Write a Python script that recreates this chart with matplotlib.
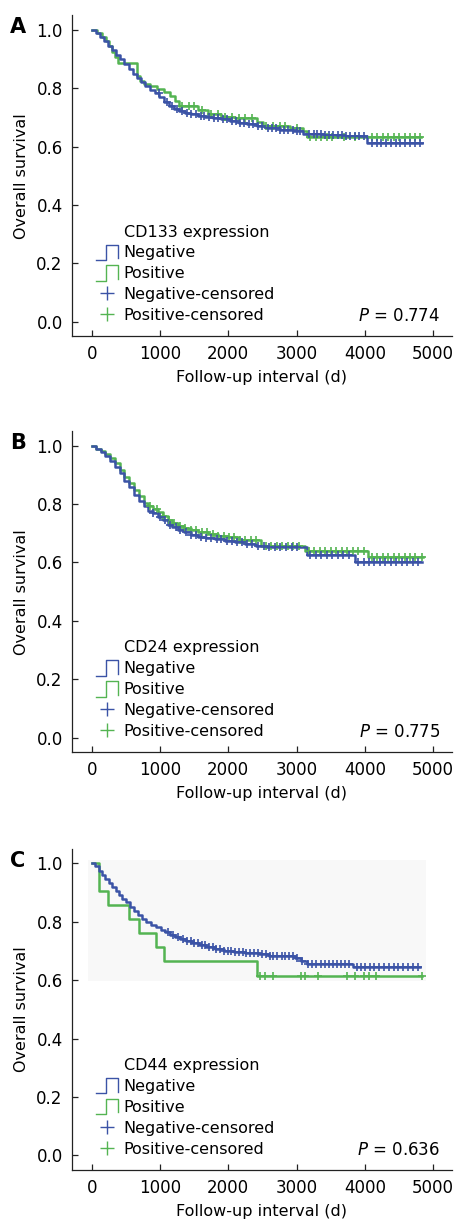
import numpy as np
import matplotlib
matplotlib.use('Agg')
import matplotlib.pyplot as plt
from matplotlib.lines import Line2D
from matplotlib.legend_handler import HandlerBase
from matplotlib.patches import Rectangle

plt.rcParams['font.family'] = ['DejaVu Sans']
plt.rcParams['font.size'] = 11.5

BLUE = '#3b53a6'
GREEN = '#54b452'

# ---- Panel A: CD133 ----
a_neg_t = [0, 60, 120, 180, 240, 300, 360, 420, 480, 540, 600, 660, 720, 780, 850, 920, 990,
           1060, 1130, 1200, 1280, 1370, 1460, 1560, 1660, 1780, 1900, 2020, 2150, 2280, 2420,
           2560, 2750, 2950, 3100, 3400, 3700, 4030]
a_neg_s = [1.0, 0.99, 0.975, 0.962, 0.945, 0.93, 0.915, 0.9, 0.883, 0.866, 0.85, 0.836, 0.822,
           0.808, 0.795, 0.782, 0.768, 0.752, 0.74, 0.73, 0.722, 0.716, 0.711, 0.705, 0.701,
           0.697, 0.693, 0.688, 0.682, 0.676, 0.669, 0.662, 0.658, 0.652, 0.642, 0.638, 0.635, 0.611]
a_neg_end = 4830
a_neg_cens = [980, 1100, 1180, 1250, 1320, 1400, 1460, 1530, 1600, 1650, 1720, 1790, 1850, 1920,
              1980, 2050, 2110, 2170, 2230, 2300, 2360, 2440, 2500, 2580, 2640, 2700, 2760, 2820,
              2880, 2940, 3000, 3050, 3180, 3250, 3300, 3360, 3420, 3480, 3540, 3600, 3660, 3720,
              3780, 3850, 3920, 3980, 4100, 4170, 4240, 4310, 4380, 4450, 4520, 4590, 4660, 4730, 4800]
a_pos_t = [0, 80, 150, 210, 250, 290, 340, 390, 660, 700, 760, 850, 950, 1060, 1150, 1220, 1280,
           1560, 1700, 1900, 2100, 2420, 2510, 2900, 3100, 3150]
a_pos_s = [1.0, 0.99, 0.975, 0.962, 0.945, 0.925, 0.905, 0.887, 0.84, 0.825, 0.815, 0.806, 0.797,
           0.787, 0.772, 0.757, 0.738, 0.724, 0.712, 0.702, 0.697, 0.685, 0.672, 0.664, 0.652, 0.634]
a_pos_end = 4820
a_pos_cens = [1320, 1420, 1500, 1620, 1750, 1850, 1950, 2050, 2150, 2250, 2350, 2550, 2650, 2750,
              2830, 3000, 3200, 3280, 3350, 3450, 3520, 3700, 3850, 4100, 4180, 4260, 4340, 4420,
              4500, 4580, 4660, 4740, 4810]

# ---- Panel B: CD24 ----
b_neg_t = [0, 60, 130, 200, 270, 340, 410, 480, 550, 620, 690, 760, 830, 900, 970, 1040, 1110,
           1180, 1260, 1350, 1450, 1560, 1680, 1800, 1950, 2100, 2250, 2400, 2550, 3150, 3860]
b_neg_s = [1.0, 0.988, 0.978, 0.965, 0.948, 0.928, 0.905, 0.878, 0.86, 0.83, 0.812, 0.792, 0.778,
           0.768, 0.757, 0.745, 0.73, 0.72, 0.712, 0.703, 0.695, 0.689, 0.685, 0.68, 0.675, 0.67,
           0.664, 0.658, 0.652, 0.624, 0.600]
b_neg_end = 4830
b_neg_cens = [900, 1000, 1080, 1150, 1230, 1300, 1380, 1450, 1520, 1600, 1680, 1750, 1830, 1900,
              1980, 2050, 2130, 2200, 2280, 2350, 2430, 2520, 2600, 2680, 2760, 2850, 2930, 3010,
              3200, 3280, 3360, 3440, 3520, 3600, 3680, 3760, 3900, 3980, 4060, 4140, 4220, 4300,
              4380, 4460, 4540, 4620, 4700, 4780]
b_pos_t = [0, 60, 130, 200, 270, 340, 410, 480, 550, 620, 690, 760, 830, 900, 970, 1040, 1110,
           1180, 1260, 1350, 1450, 1560, 1700, 1850, 2000, 2150, 2480, 3120, 4040]
b_pos_s = [1.0, 0.99, 0.982, 0.972, 0.957, 0.94, 0.918, 0.892, 0.872, 0.85, 0.828, 0.805, 0.792,
           0.783, 0.772, 0.76, 0.746, 0.734, 0.725, 0.717, 0.71, 0.704, 0.698, 0.692, 0.686,
           0.678, 0.656, 0.640, 0.618]
b_pos_end = 4850
b_pos_cens = [850, 960, 1050, 1130, 1210, 1290, 1370, 1450, 1530, 1610, 1690, 1770, 1850, 1930,
              2010, 2090, 2170, 2250, 2330, 2410, 2550, 2630, 2710, 2790, 2870, 2950, 3030, 3180,
              3260, 3340, 3420, 3500, 3580, 3660, 3740, 3820, 3900, 3980, 4100, 4180, 4260, 4340,
              4420, 4500, 4580, 4660, 4740, 4840]

# ---- Panel C: CD44 ----
c_neg_t = [0, 50, 100, 150, 200, 250, 300, 350, 400, 450, 500, 560, 620, 680, 740, 800, 870, 940,
           1010, 1080, 1150, 1220, 1300, 1380, 1470, 1570, 1680, 1800, 1930, 2080, 2250, 2450,
           2600, 2980, 3060, 3150, 3830]
c_neg_s = [1.0, 0.99, 0.975, 0.96, 0.946, 0.934, 0.92, 0.906, 0.892, 0.879, 0.866, 0.852, 0.836,
           0.822, 0.81, 0.798, 0.79, 0.781, 0.773, 0.764, 0.756, 0.749, 0.741, 0.733, 0.726, 0.72,
           0.714, 0.707, 0.701, 0.697, 0.692, 0.688, 0.682, 0.675, 0.666, 0.657, 0.645]
c_neg_end = 4810
c_neg_cens = [1120, 1190, 1260, 1330, 1400, 1450, 1500, 1560, 1610, 1660, 1720, 1770, 1820, 1880,
              1930, 1990, 2040, 2100, 2150, 2210, 2260, 2320, 2380, 2430, 2490, 2550, 2610, 2660,
              2720, 2780, 2830, 2890, 2940, 3000, 3080, 3170, 3230, 3290, 3350, 3410, 3470, 3530,
              3590, 3650, 3710, 3770, 3880, 3940, 4000, 4070, 4140, 4210, 4280, 4350, 4420, 4490,
              4560, 4630, 4700, 4770]
c_pos_t = [0, 110, 240, 540, 690, 940, 1060, 2415]
c_pos_s = [1.0, 0.905, 0.857, 0.810, 0.762, 0.714, 0.667, 0.615]
c_pos_end = 4830
c_pos_cens = [2470, 2540, 2650, 3070, 3130, 3320, 3740, 3860, 3980, 4060, 4160, 4830]

panel_letters = ['A', 'B', 'C']
markers_names = ['CD133', 'CD24', 'CD44']
p_values = ['0.774', '0.775', '0.636']
x_ticks = [0, 1000, 2000, 3000, 4000, 5000]
y_ticks = [0.0, 0.2, 0.4, 0.6, 0.8, 1.0]

panels = [
    (a_neg_t, a_neg_s, a_neg_end, a_neg_cens, a_pos_t, a_pos_s, a_pos_end, a_pos_cens),
    (b_neg_t, b_neg_s, b_neg_end, b_neg_cens, b_pos_t, b_pos_s, b_pos_end, b_pos_cens),
    (c_neg_t, c_neg_s, c_neg_end, c_neg_cens, c_pos_t, c_pos_s, c_pos_end, c_pos_cens),
]


class StepKey(Line2D):
    pass


class StepHandler(HandlerBase):
    def create_artists(self, legend, orig_handle, xdescent, ydescent, width, height,
                       fontsize, trans):
        xs = np.array([0, 0.46, 0.46, 1.0, 1.0]) * width - xdescent
        ys = np.array([-0.15, -0.15, 1.1, 1.1, 0.0]) * height - ydescent
        ln = Line2D(xs, ys, color=orig_handle.get_color(), lw=1.0, transform=trans)
        return [ln]


def surv_at(times, surv, t):
    idx = np.searchsorted(times, t, side='right') - 1
    return np.asarray(surv)[idx]


def draw_km(ax, times, surv, end, cens, color):
    xs = np.append(times, end)
    ys = np.append(surv, surv[-1])
    ax.step(xs, ys, where='post', color=color, lw=1.8, zorder=3)
    ax.plot(cens, surv_at(times, surv, cens), ls='none', marker='+', ms=5.5, mew=1.2,
            color=color, zorder=4)


fig = plt.figure(figsize=(4.56, 12.23), dpi=100)
bottoms = [0.7250, 0.3849, 0.0434]

for i, (nt, ns, ne, nc, pt, ps, pe, pc) in enumerate(panels):
    ax = fig.add_axes([0.1572, bottoms[i], 0.8333, 0.2626])
    if i == 2:
        # faint grey artefact behind the curves in panel C
        ax.add_patch(Rectangle((-60, 0.598), 4950, 0.413, facecolor='#f8f8f8',
                               edgecolor='none', zorder=0))
    draw_km(ax, pt, ps, pe, pc, GREEN)
    draw_km(ax, nt, ns, ne, nc, BLUE)

    ax.set_xlim(-293, 5270)
    ax.set_ylim(-0.05, 1.05)
    ax.set_xticks(x_ticks)
    ax.set_yticks(y_ticks)
    ax.set_yticklabels(['%.1f' % v for v in y_ticks])
    ax.spines['top'].set_visible(False)
    ax.spines['right'].set_visible(False)
    for s in ['left', 'bottom']:
        ax.spines[s].set_linewidth(0.9)
        ax.spines[s].set_color('#222222')
    ax.tick_params(direction='in', length=4.5, width=0.9, color='#222222', labelsize=12)
    ax.tick_params(axis='y', pad=6.5)
    ax.tick_params(axis='x', pad=6.5)
    ax.set_ylabel('Overall survival', fontsize=11.5, labelpad=5)
    ax.set_xlabel('Follow-up interval (d)', fontsize=11.5, labelpad=5)

    handles = [Line2D([], [], color='none'),
               StepKey([], [], color=BLUE),
               StepKey([], [], color=GREEN),
               Line2D([], [], ls='none', marker='+', ms=10, mew=1.0, color=BLUE),
               Line2D([], [], ls='none', marker='+', ms=10, mew=1.0, color=GREEN)]
    labels = ['%s expression' % markers_names[i], 'Negative', 'Positive',
              'Negative-censored', 'Positive-censored']
    ax.legend(handles, labels, handler_map={StepKey: StepHandler()}, loc='lower left',
              bbox_to_anchor=(0.064, 0.041), frameon=False, borderpad=0, borderaxespad=0,
              handlelength=1.35, handleheight=0.8, handletextpad=0.38, labelspacing=0.37,
              fontsize=11.5, numpoints=1)

    ax.text(0.969, 0.062, '$P$ = %s' % p_values[i], transform=ax.transAxes,
            ha='right', va='center', fontsize=12)

    top_px = (1 - bottoms[i] - 0.2626) * 1223
    fig.text(10 / 456, 1 - (top_px + 12) / 1223, panel_letters[i], fontsize=15,
             fontweight='bold', ha='left', va='center')

fig.savefig('out.png', dpi=100)
